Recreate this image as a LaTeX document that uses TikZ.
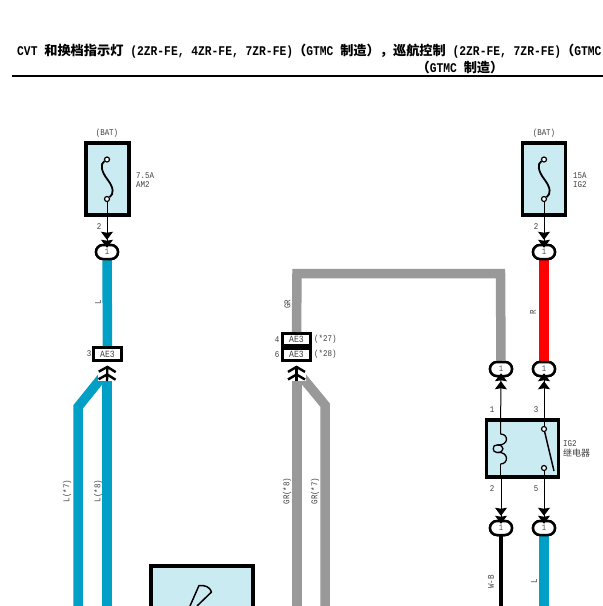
\documentclass[tikz,border=0pt]{standalone}
\usepackage{fontspec}
\setmainfont[FakeStretch=0.85]{Liberation Mono}
\newfontfamily\cjk{Noto Sans CJK SC}
\usetikzlibrary{arrows.meta}
\definecolor{wireblue}{HTML}{00A0C6}
\definecolor{wiregray}{HTML}{999999}
\definecolor{boxfill}{HTML}{CBEBF3}
\newcommand{\titlecn}[1]{{\cjk\bfseries\fontsize{13.2}{14}\selectfont #1}}
\newcommand{\labelcn}[1]{{\cjk\fontsize{9}{10}\selectfont #1}}

\begin{document}
\begin{tikzpicture}[x=1pt,y=-1pt]
\tikzstyle{part} = [rectangle, draw=black, line width=3.5pt, fill=boxfill, inner sep=0pt]
\tikzstyle{pill} = [rectangle, draw=black, line width=2.5pt, fill=white, rounded corners=7pt,
minimum width=22pt, minimum height=14pt, inner sep=0pt, font=\fontsize{8.5}{9}\selectfont, text=black!70]
\tikzstyle{plug} = [rectangle, draw=black, line width=3pt, fill=white, minimum width=28pt,
minimum height=12pt, inner sep=0pt, font=\fontsize{9.5}{9}\selectfont, text=black!75]
\tikzstyle{txt} = [inner sep=0pt, font=\fontsize{8.8}{9.5}\selectfont, text=black!75]
\tikzstyle{side} = [txt, rotate=90]
\tikzstyle{pin} = [draw=black, line width=1.2pt, fill=white, circle, minimum size=5pt, inner sep=0pt]
\tikzstyle{thinwire} = [draw=black, line width=1pt]
\tikzstyle{fat} = [line width=9.5pt, line join=miter]
\tikzstyle{male} = [thinwire, -{Stealth[length=8pt,width=12pt,inset=1pt] Stealth[length=8pt,width=12pt,inset=1pt,sep=-4pt]}]
\tikzstyle{chevron} = [draw=black, line width=2.4pt, shorten >=2.5pt, -{Straight Barb[length=5pt,width=17pt] Straight Barb[length=5pt,width=17pt,sep=1pt]}]

\useasboundingbox (0,0) rectangle (603,606);
\fill[white] (0,0) rectangle (603,606);

% heading
\node[anchor=west, inner sep=0pt, font=\bfseries\fontsize{13.3}{14}\selectfont] (head1) at (17,51)
 {CVT \titlecn{和换档指示灯} (2ZR-FE, 4ZR-FE, 7ZR-FE)\titlecn{（}GTMC \titlecn{制造），巡航控制} (2ZR-FE, 7ZR-FE)\titlecn{（}GTMC};
\node[inner sep=0pt, font=\bfseries\fontsize{13.3}{14}\selectfont] (head2) at (460,67)
 {\titlecn{（}GTMC \titlecn{制造）}};
\coordinate (ruleA) at (12,76);
\coordinate (ruleB) at (603,76);
\draw[line width=2pt] (ruleA) -- (ruleB);

% row 1: fuses
\node [part, minimum width=43pt, minimum height=72pt] (fuseA) at (107.5,179) {};
\node [part, minimum width=43pt, minimum height=72pt] (fuseB) at (544,179) {};
\node [txt] (batA) at (107,133) {(BAT)};
\node [txt] (batB) at (544,133) {(BAT)};
\node [txt, anchor=west, align=left] (ratingA) at (136,180) {7.5A\\AM2};
\node [txt, anchor=west, align=left] (ratingB) at (573,180) {15A\\IG2};
\node [pin] (fuseAtop) at (107,159.5) {};
\node [pin] (fuseAbot) at (107,199) {};
\node [pin] (fuseBtop) at (544,159.5) {};
\node [pin] (fuseBbot) at (544,199) {};
\draw[line width=1.8pt] (fuseAtop) .. controls (100,164) and (101,171) .. (107.5,179.5) .. controls (114,188) and (114,194) .. (fuseAbot);
\draw[line width=1.8pt] (fuseBtop) .. controls (537,164) and (538,171) .. (544.5,179.5) .. controls (551,188) and (551,194) .. (fuseBbot);

% row 2: round connectors
\node [pill] (pillA) at (107,252) {1};
\node [pill] (pillB) at (544,252) {1};
\node [pill] (pillC) at (501,369) {1};
\node [pill] (pillD) at (544,369) {1};
\node [pill] (pillE) at (501,528) {1};
\node [pill] (pillF) at (544,528) {1};

% row 3: AE3 connectors
\node [plug, minimum width=28pt, minimum height=13pt] (plugA) at (107.5,354) {AE3};
\node [plug] (plugB) at (296.5,339.5) {AE3};
\node [plug] (plugC) at (296.5,354.5) {AE3};

% relay
\node [part, minimum width=72pt, minimum height=57pt] (relay) at (522.5,448.5) {};
\node [pin] (swtop) at (544,429) {};
\node [pin] (swbot) at (544,468) {};
\coordinate (swend) at (554,471);
\coordinate (coiltop) at (500.5,434);
\coordinate (coilbot) at (500.5,464);
\draw[line width=1.5pt] (swtop) -- (swend);
\draw[line width=1.3pt] (coiltop) .. controls (509,434) and (509,446) .. (497,445)
 .. controls (492,444) and (492,453) .. (497,452.5)
 .. controls (509,451) and (509,464) .. (coilbot);
\draw[line width=1.3pt] (497,445) .. controls (505,444.5) and (505,453) .. (497,452.5);
\node [txt, anchor=west, align=left] (relayname) at (563,449) {IG2\\\labelcn{继电器}};

% heavy wires
\coordinate (endA) at (107,606);
\coordinate (endB) at (78,606);
\coordinate (kneeB) at (78,407);
\coordinate (startA) at (107,371);
\coordinate (endC) at (297,606);
\coordinate (endD) at (325,606);
\coordinate (kneeD) at (325,405);
\coordinate (startC) at (297,371);
\coordinate (topL) at (297,273.5);
\coordinate (topR) at (500.5,273.5);
\coordinate (endF) at (544,606);
\coordinate (endE) at (501,606);
\draw[fat, draw=wireblue] (pillA.south) -- (plugA.north);
\draw[fat, draw=wireblue] (startA) -- (endA);
\draw[fat, draw=wireblue] (startA) -- (kneeB) -- (endB);
\draw[fat, draw=wiregray] (pillC.north) -- (topR) -- (topL) -- (plugB.north);
\draw[fat, draw=wiregray] (startC) -- (endC);
\draw[fat, draw=wiregray] (startC) -- (kneeD) -- (endD);
\draw[fat, draw=red] (pillB.south) -- (pillD.north);
\draw[fat, draw=wireblue] (pillF.south) -- (endF);
\draw[line width=3.5pt] (pillE.south) -- (endE);
\node [pill] at (pillA) {1};
\node [pill] at (pillB) {1};
\node [pill] at (pillC) {1};
\node [pill] at (pillD) {1};
\node [pill] at (pillE) {1};
\node [pill] at (pillF) {1};

% thin wires with terminals
\draw[male] (fuseAbot) -- (pillA.north);
\draw[male] (fuseBbot) -- (pillB.north);
\draw[male] (relay.south -| pillE) -- (pillE.north);
\draw[male] (swbot) -- (pillF.north);
\draw[male] (coiltop) -- (pillC.south);
\draw[male] (swtop) -- (pillD.south);
\draw[thinwire] (relay.south -| coilbot) -- (coilbot);
\coordinate (chevA) at (107,381);
\coordinate (chevB) at (296.5,381);
\draw[white, line width=19pt] (chevA) -- (107,363);
\draw[white, line width=19pt] (chevB) -- (296.5,363);
\draw[chevron] (chevA) -- (plugA.south);
\draw[chevron] (chevB) -- (plugC.south);

% bottom part, cut off by the page
\coordinate (boxL) at (151,612);
\coordinate (boxTL) at (151,566);
\coordinate (boxTR) at (253,566);
\coordinate (boxR) at (253,612);
\draw[line width=3.5pt, fill=boxfill] (boxL) -- (boxTL) -- (boxTR) -- (boxR);
\draw[line width=1.5pt, line join=round] (190,606) -- (199,585.5) .. controls (205,585) and (210,587) .. (211.5,592) -- (197,606);

% pin numbers and wire names
\node [txt] (numA) at (99,227) {2};
\node [txt] (numB) at (536,227) {2};
\node [txt] (numC) at (89,354) {3};
\node [txt] (numD) at (277,339.5) {4};
\node [txt] (numE) at (277,354.5) {6};
\node [txt, anchor=west] (noteA) at (314,339.5) {(*27)};
\node [txt, anchor=west] (noteB) at (314,354.5) {(*28)};
\node [txt] (numF) at (492,410) {1};
\node [txt] (numG) at (536,410) {3};
\node [txt] (numH) at (492,489) {2};
\node [txt] (numI) at (536,489) {5};
\node [side] (nameA) at (98,302) {L};
\node [side] (nameB) at (287.5,304) {GR};
\node [side] (nameC) at (533,312) {R};
\node [side] (nameD) at (67,491) {L(*7)};
\node [side] (nameE) at (98,491) {L(*8)};
\node [side] (nameF) at (287,491) {GR(*8)};
\node [side] (nameG) at (315,491) {GR(*7)};
\node [side] (nameH) at (491,582) {W-B};
\node [side] (nameI) at (534,581) {L};
\end{tikzpicture}
\end{document}
